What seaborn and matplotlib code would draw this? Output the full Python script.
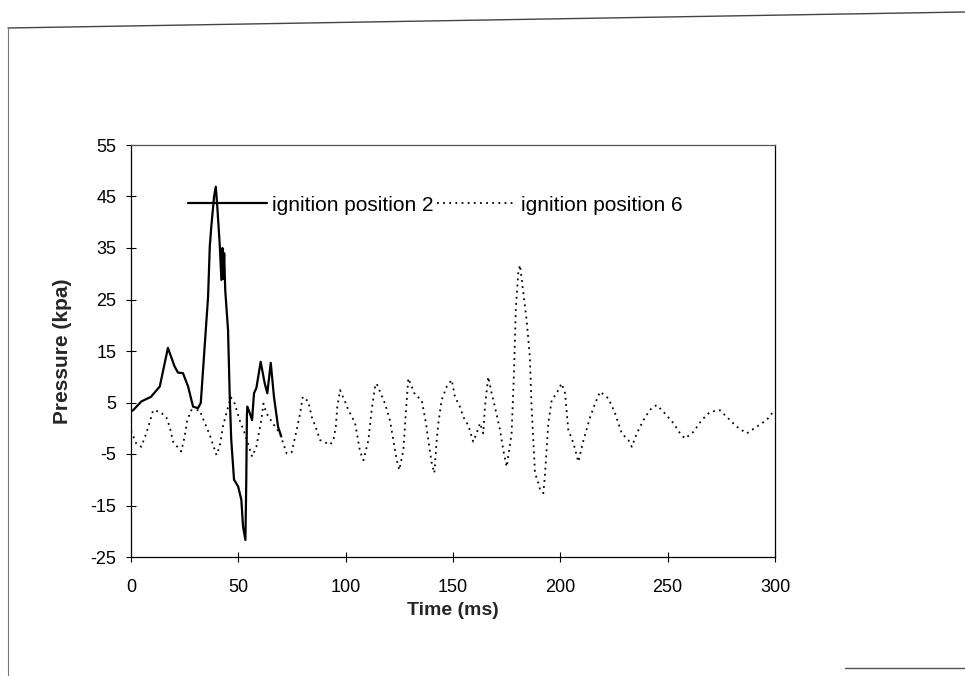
import matplotlib
matplotlib.use("Agg")
import matplotlib.pyplot as plt
import seaborn as sns
import pandas as pd
from matplotlib.lines import Line2D

# ---- data ----
time_pos2 = [0, 1, 4.8, 9.3, 13.4, 17.2, 20.3, 21.9, 24.2, 26.6, 28.9, 31.2, 32.5,
             34.3, 35.9, 36.7, 37.4, 38.7, 39.5, 40.2, 41.3, 42.1, 42.6, 43.0, 43.4,
             43.9, 45.2, 46.0, 46.7, 48.0, 49.9, 51.4, 52.2, 53.3, 53.7, 54.0, 54.2,
             55.3, 56.4, 57.3, 58.4, 60.4, 62.3, 63.5, 65.1, 66.6, 68.5, 70]
press_pos2 = [3.3, 3.5, 5.2, 6.1, 8.1, 15.6, 12, 10.8, 10.7, 8.1, 4.2, 3.9, 4.9,
              15.8, 25.5, 35.3, 39.1, 45, 46.9, 43, 35.9, 28.8, 35, 29, 34,
              26.8, 19.1, 6.1, -2.3, -10, -11.3, -13.9, -19.1, -21.7, -10, 2.5, 4.2,
              3, 1.6, 6.8, 7.8, 12.9, 8.7, 6.8, 12.7, 6.1, 0.3, -1.6]

time_pos6 = [0, 2.5, 4.8, 7.1, 8.6, 10.3, 13.4, 16.4, 18, 19.6, 23.4, 25, 26.2, 28.1,
             32, 33.5, 36.7, 39.8, 41.3, 42.8, 44.4, 46.5, 48.3, 50.6, 53, 56.4, 58.4,
             60.7, 61.7, 63, 66, 69.4, 72.5, 74.8, 77.2, 78.8, 80, 82.6, 84.2, 85.7,
             88.1, 92.7, 94.3, 95.4, 96.1, 97.4, 99.7, 101.3, 104.4, 106.7, 108.3,
             110.6, 112.1, 113.7, 114.4, 118.3, 120.6, 122.2, 123.8, 125, 126.9, 128,
             129.2, 132.3, 135.4, 137.4, 138.5, 140.1, 141.3, 142.4, 143.2, 144.7,
             147.1, 149.4, 150.9, 153.2, 154.8, 157.1, 159.4, 161, 162.6, 164.1, 164.9,
             166.4, 168, 169.5, 171.9, 173.4, 175, 177.3, 178.4, 179.3, 180.4, 181.2,
             182.4, 184.3, 185.8, 186.6, 187.4, 188.2, 189.8, 190.6, 192.1, 192.9,
             194.4, 196, 198.3, 200.6, 202.2, 203.7, 206.1, 208.4, 210.8, 213.9, 216.2,
             218.5, 222.4, 225.5, 228.6, 231.7, 233.3, 235.6, 239.5, 242.5, 244.9, 248,
             252.7, 255.8, 258.1, 262, 265.9, 269.8, 274.4, 277.5, 282.2, 286.8, 291.5,
             296.1, 299.2, 300]
press_pos6 = [-0.5, -3, -3.6, -1, 1, 3.5, 3.2, 2.2, 0.3, -2.6, -4.5, -1.6, 1.6, 3.5,
              3.5, 1.9, -1.3, -5.2, -3.6, 0.3, 2.9, 6, 4.8, 1.6, -1, -5.5, -3.6,
              1.6, 4.8, 3, 1, -1, -4.9, -4.7, -0.3, 2.9, 6.1, 5.2, 2.2, 0.6,
              -2.3, -3.2, -2.3, 0.3, 4.2, 7.4, 5.2, 3.5, 1, -4.5, -6.2,
              -2.3, 3.5, 8.1, 8.7, 4.8, 1.6, -2.3, -6.2, -8.1, -4.2, 2.9,
              9.7, 6.5, 5.5, 1, -2.3, -6.8, -8.7, -2.3, 1, 5.5,
              8.1, 9.4, 6.1, 4.2, 2.2, 0.6, -2.6, -1, 1, -1, 4.2,
              10, 6.8, 4.2, -0.3, -4.2, -7.5, -1, 10.7, 23.6, 30.1, 31.7,
              27.5, 21, 13.9, 4.2, -2.3, -8.7, -10.7, -12, -12.6, -8.7,
              1, 5.5, 6.8, 8.7, 6.8, -0.3, -2.9, -6.5, -2.3, 2.2, 4.8,
              7.1, 5.8, 2.9, -1, -2.3, -3.6, -1, 2.2, 3.9, 4.5, 3.2,
              1, -1, -2, -0.7, 1.6, 3.2, 3.5, 2.2, 0.3, -1, 0.3,
              1.6, 3.2, 3.5]

x_ticks = [0, 50, 100, 150, 200, 250, 300]
y_ticks = [-25, -15, -5, 5, 15, 25, 35, 45, 55]
label_pos2 = "ignition position 2"
label_pos6 = "ignition position 6"

df2 = pd.DataFrame({"Time": time_pos2, "Pressure": press_pos2})
df6 = pd.DataFrame({"Time": time_pos6, "Pressure": press_pos6})

sns.set_theme(style="white")
plt.rcParams["font.family"] = ["Liberation Sans", "DejaVu Sans"]

fig = plt.figure(figsize=(9.65, 6.76), dpi=100)
fig.patch.set_facecolor("white")
ax = fig.add_axes([131 / 965, 1 - 557 / 676, (775 - 131) / 965, (557 - 145) / 676])

sns.lineplot(data=df2, x="Time", y="Pressure", ax=ax, color="black", linewidth=1.6,
             label=label_pos2, sort=False, estimator=None)
sns.lineplot(data=df6, x="Time", y="Pressure", ax=ax, color="black", linewidth=1.3,
             linestyle=(0, (1, 2.4)), label=label_pos6, sort=False, estimator=None)

ax.set_xlim(0, 300)
ax.set_ylim(-25, 55)
ax.set_xticks(x_ticks)
ax.set_yticks(y_ticks)
ax.set_xticklabels([str(v) for v in x_ticks], fontsize=13)
ax.set_yticklabels([str(v) for v in y_ticks], fontsize=13)
ax.tick_params(axis="both", direction="inout", length=7, width=0.8, colors="black",
               left=True, bottom=True)
ax.tick_params(axis="x", pad=12)
ax.tick_params(axis="y", pad=7)
for s in ax.spines.values():
    s.set_visible(True)
    s.set_color("black")
    s.set_linewidth(0.9)
ax.spines["top"].set_color("#555555")

ax.set_xlabel("Time (ms)", fontsize=14, fontweight="bold", labelpad=5)
ax.set_ylabel("Pressure (kpa)", fontsize=15, fontweight="bold", labelpad=13)

leg = ax.legend(loc="center left", bbox_to_anchor=(0.088, 0.854), ncol=2, frameon=False,
                fontsize=15, handlelength=3.8, handletextpad=0.25, columnspacing=0.15,
                borderaxespad=0, borderpad=0)
for t in leg.get_texts():
    t.set_color("black")

# scanned page border artefacts
fig.add_artist(Line2D([8 / 965, 1.0], [1 - 28 / 676, 1 - 12 / 676], color="#444444", lw=1.0))
fig.add_artist(Line2D([8 / 965, 8 / 965], [0, 1 - 28 / 676], color="#777777", lw=0.8))
fig.add_artist(Line2D([845 / 965, 1.0], [1 - 668 / 676, 1 - 668 / 676], color="#555555", lw=1.0))

fig.savefig("out.png", dpi=100, facecolor="white")
